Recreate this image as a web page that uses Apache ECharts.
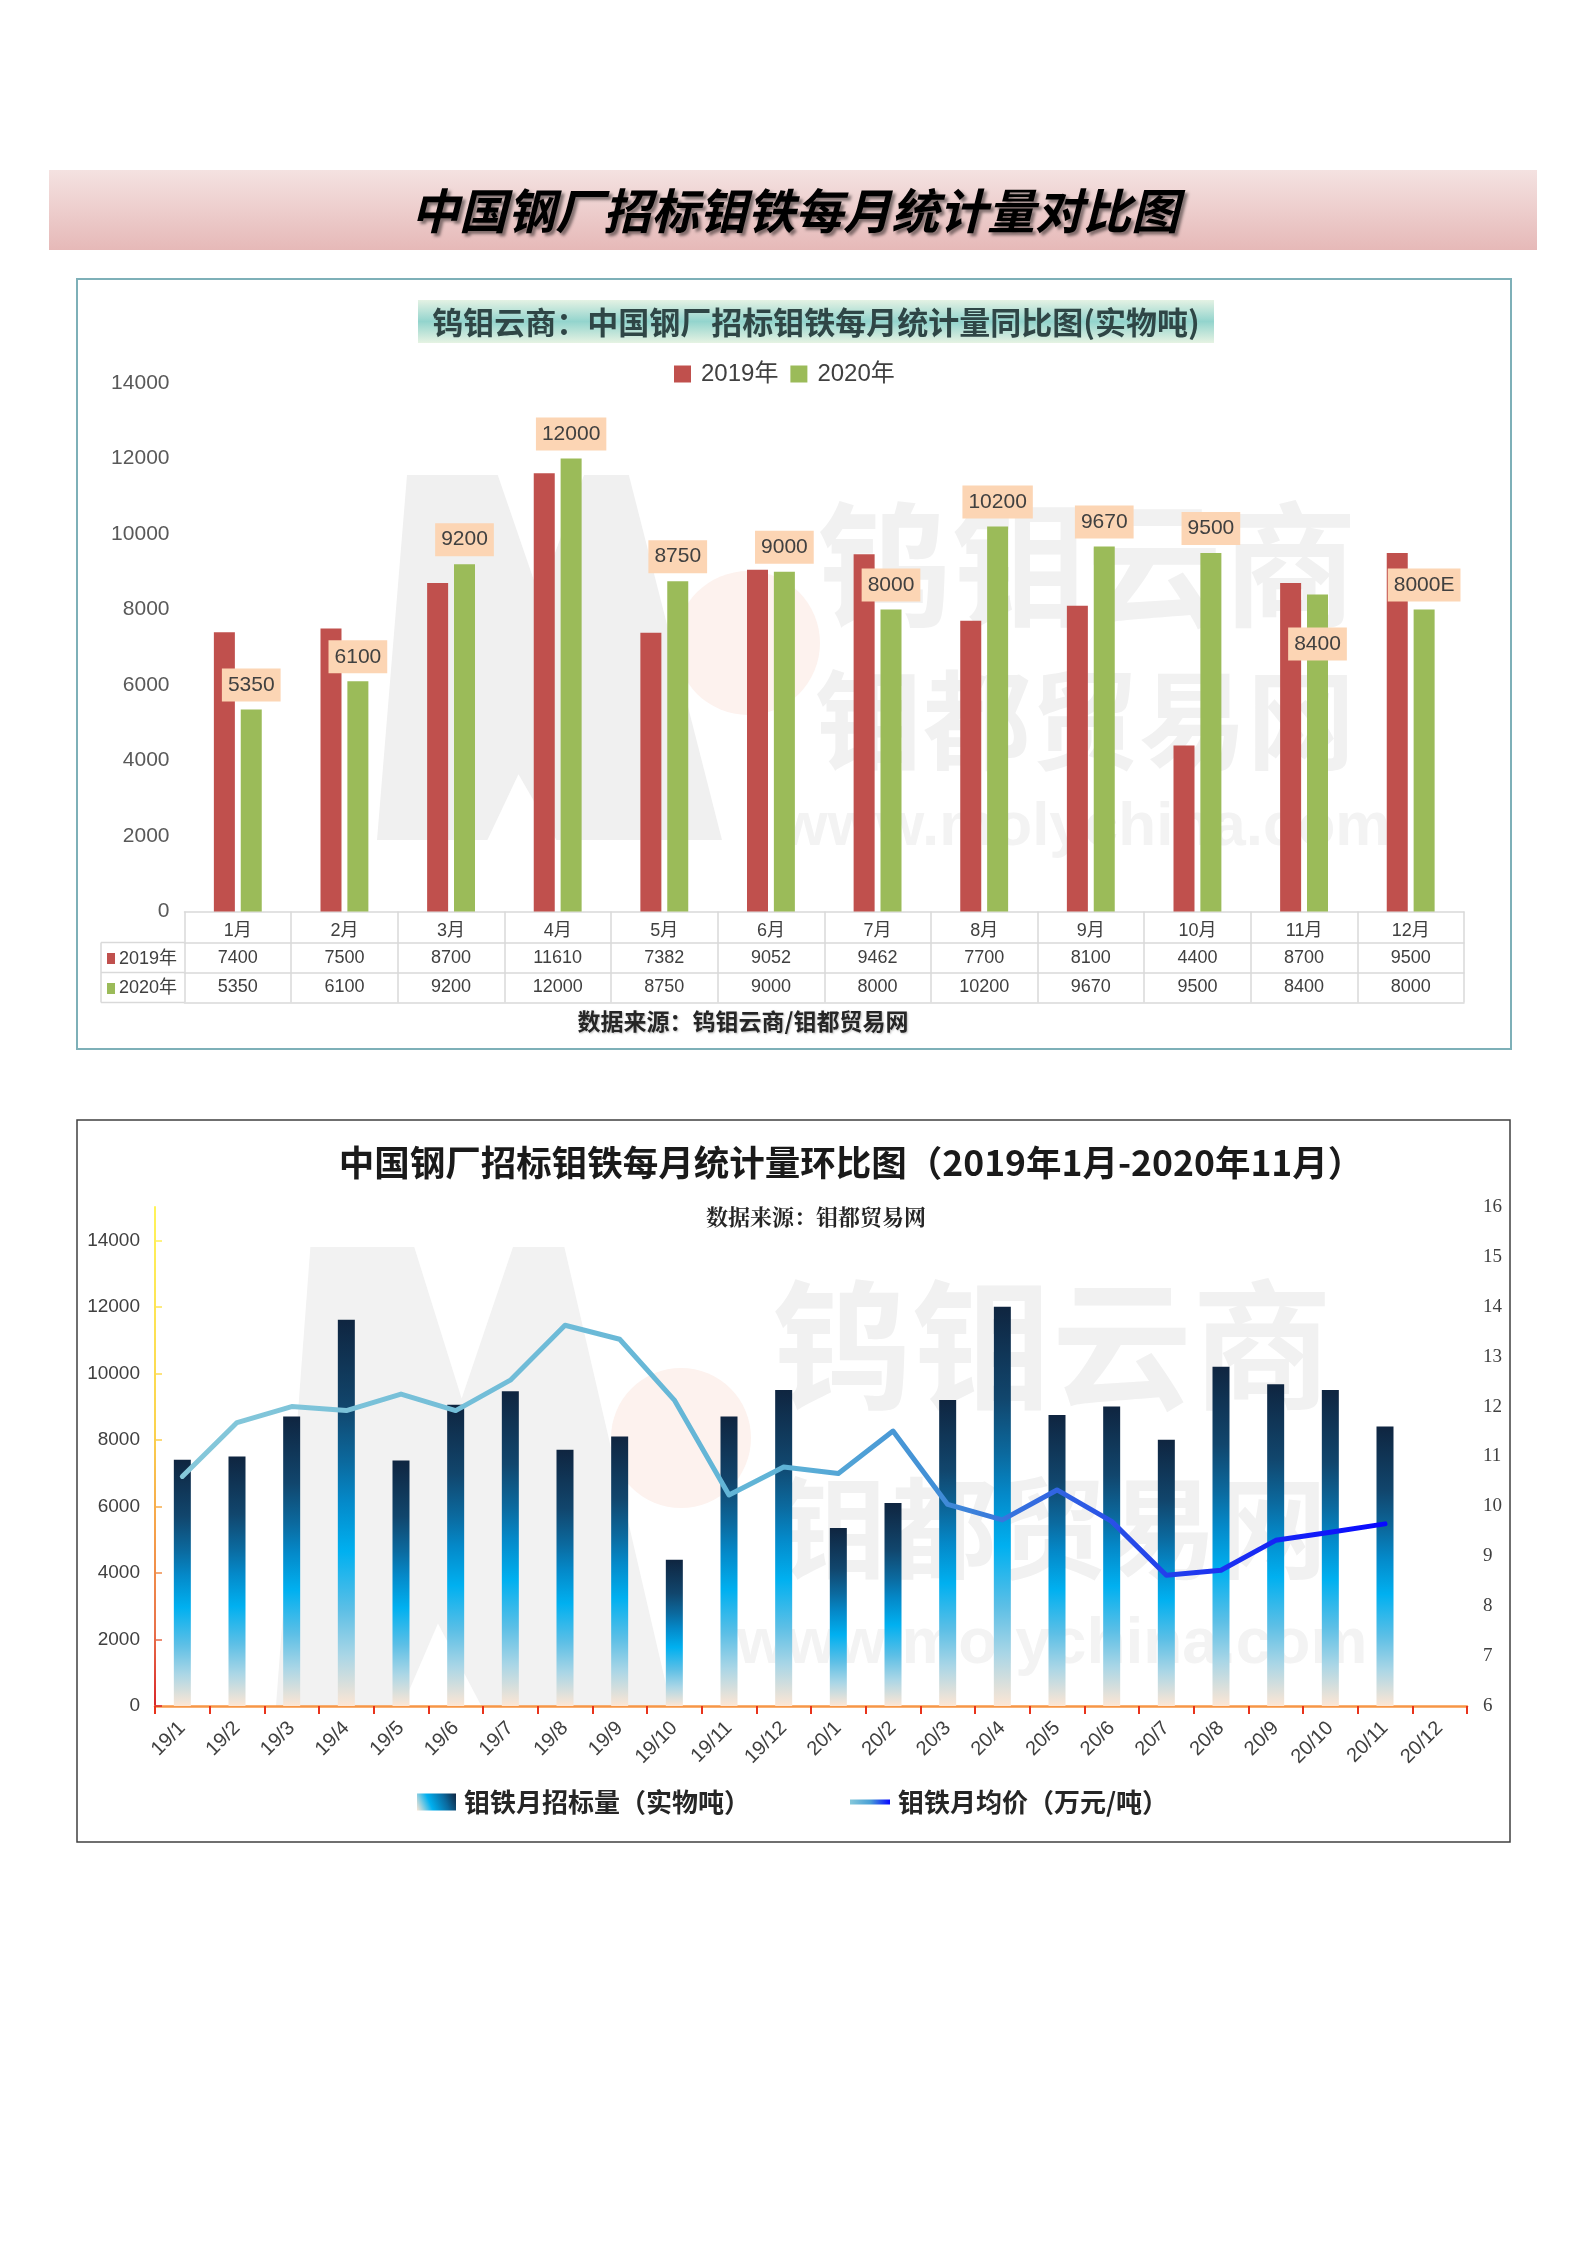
<!DOCTYPE html>
<html>
<head>
<meta charset="utf-8">
<script src="https://cdn.jsdelivr.net/npm/echarts@6/dist/echarts.min.js"></script>
<style>
html,body{margin:0;padding:0;background:#ffffff;}
#c{width:1587px;height:2245px;}
</style>
</head>
<body>
<div id="c"></div>
<script>
// ---------- data ----------
const months = ['1月','2月','3月','4月','5月','6月','7月','8月','9月','10月','11月','12月'];
const y2019 = [7400, 7500, 8700, 11610, 7382, 9052, 9462, 7700, 8100, 4400, 8700, 9500];
const y2020 = [5350, 6100, 9200, 12000, 8750, 9000, 8000, 10200, 9670, 9500, 8400, 8000];
const estimated2020 = [false,false,false,false,false,false,false,false,false,false,false,true];
const yTicks1 = [0, 2000, 4000, 6000, 8000, 10000, 12000, 14000];

const periods = ['19/1','19/2','19/3','19/4','19/5','19/6','19/7','19/8','19/9','19/10','19/11','19/12',
                 '20/1','20/2','20/3','20/4','20/5','20/6','20/7','20/8','20/9','20/10','20/11','20/12'];
const volumes = [7400, 7500, 8700, 11610, 7382, 9052, 9462, 7700, 8100, 4400, 8700, 9500,
                 5350, 6100, 9200, 12000, 8750, 9000, 8000, 10200, 9670, 9500, 8400, null];
const prices  = [10.6, 11.68, 12.0, 11.92, 12.25, 11.92, 12.53, 13.63, 13.35, 12.13, 10.23, 10.79,
                 10.66, 11.51, 10.04, 9.73, 10.33, 9.7, 8.62, 8.72, 9.32, 9.48, 9.65, null];
const volTicks = [0, 2000, 4000, 6000, 8000, 10000, 12000, 14000];

// ---------- styling helpers ----------
const CJK = "'Noto Sans CJK SC', sans-serif";
const NUM = "'Liberation Sans', 'Noto Sans CJK SC', sans-serif";
const G = echarts.graphic;
const wm = '#f1f1f1';
const plain = v => String(v);

function mShape(x0, y0, x1, y1) {
  const rel = [[0,1],[0.087,0],[0.35,0],[0.47,0.33],[0.6,0],[0.73,0],[1,1],[0.52,1],[0.41,0.82],[0.32,1]];
  return rel.map(p => [x0 + p[0]*(x1-x0), y0 + p[1]*(y1-y0)]);
}

const barGrad = new G.LinearGradient(0,0,0,1,[
  {offset:0, color:'#0f2540'},{offset:0.23, color:'#11466d'},{offset:0.37, color:'#0b6a9f'},
  {offset:0.47, color:'#0489c9'},{offset:0.6, color:'#00b0f0'},{offset:0.75, color:'#5cbfe6'},
  {offset:0.87, color:'#aad6e6'},{offset:1, color:'#fde6d4'}]);
const barLegendGrad = new G.LinearGradient(0,1,1,0,[
  {offset:0, color:'#fde6d4'},{offset:0.35, color:'#00b0f0'},{offset:0.7, color:'#0b6a9f'},{offset:1, color:'#0f2540'}]);
const lineGrad = new G.LinearGradient(0,0,1,0,[
  {offset:0, color:'#86c8da'},{offset:0.5, color:'#5fb3d6'},{offset:0.62, color:'#4290d6'},
  {offset:0.8, color:'#2545ea'},{offset:1, color:'#0808ff'}]);
const lineLegendGrad = new G.LinearGradient(0,0,1,0,[
  {offset:0, color:'#86c8da'},{offset:0.5, color:'#4aa0d6'},{offset:1, color:'#0808ff'}]);
const leftAxisGrad = new G.LinearGradient(0,1207,0,1706,[
  {offset:0, color:'#fff35a'},{offset:0.45, color:'#fbd24e'},{offset:0.65, color:'#f5a04a'},
  {offset:0.85, color:'#e8704a'},{offset:1, color:'#d9262a'}], true);

const tableLine = '#d9d9d9';

// ---------- graphic (frames, titles, watermark) ----------
const graphics = [
  // banner
  {type:'rect', shape:{x:49,y:170,width:1488,height:80},
   style:{fill:new G.LinearGradient(0,0,0,1,[{offset:0,color:'#f4e2e1'},{offset:1,color:'#e6b9b8'}])}, z:0},
  {type:'text', x:795, y:211, z:1,
   style:{text:'中国钢厂招标钼铁每月统计量对比图', fill:'#000', font:"italic bold 48px 'Noto Sans CJK SC', sans-serif",
     align:'center', verticalAlign:'middle', textShadowColor:'rgba(0,0,0,0.45)', textShadowBlur:3,
     textShadowOffsetX:3, textShadowOffsetY:3}},

  // chart 1 watermark
  {type:'polygon', shape:{points:mShape(377,475,722,840)}, style:{fill:'#f0f0f0'}, z:0},
  {type:'circle', shape:{cx:748,cy:643,r:72}, style:{fill:'#fdf2ee'}, z:0},
  {type:'text', x:1087, y:565, z:0, style:{text:'钨钼云商', fill:wm, font:"bold 135px 'Noto Sans CJK SC'", align:'center', verticalAlign:'middle'}},
  {type:'text', x:1085, y:720, z:0, style:{text:'钼都贸易网', fill:wm, font:"bold 108px 'Noto Sans CJK SC'", align:'center', verticalAlign:'middle'}},
  {type:'text', x:1085, y:828, z:0, style:{text:'www.molychina.com', fill:'#f3f3f3', font:"bold 62px 'Liberation Sans'", align:'center', verticalAlign:'middle'}},

  // chart 1 frame
  {type:'rect', shape:{x:77,y:279,width:1434,height:770}, style:{fill:'none', stroke:'#7eb0b8', lineWidth:2}, z:1},
  // chart 1 title box
  {type:'rect', shape:{x:418,y:300,width:796,height:43},
   style:{fill:new G.LinearGradient(0,0,0,1,[{offset:0,color:'#e4f2e4'},{offset:0.5,color:'#93d4cd'},{offset:1,color:'#e6f3e3'}])}, z:1},
  {type:'text', x:816, y:322, z:2,
   style:{text:'钨钼云商：中国钢厂招标钼铁每月统计量同比图(实物吨)', fill:'#2f4646', font:"bold 31px 'Noto Sans CJK SC'",
     align:'center', verticalAlign:'middle'}},

  // table left column
  {type:'line', shape:{x1:101,y1:942.5,x2:184.5,y2:942.5}, style:{stroke:tableLine,lineWidth:1.5}, z:1},
  {type:'line', shape:{x1:101,y1:972.5,x2:184.5,y2:972.5}, style:{stroke:tableLine,lineWidth:1.5}, z:1},
  {type:'line', shape:{x1:101,y1:1002.5,x2:184.5,y2:1002.5}, style:{stroke:tableLine,lineWidth:1.5}, z:1},
  {type:'line', shape:{x1:101,y1:942.5,x2:101,y2:1002.5}, style:{stroke:tableLine,lineWidth:1.5}, z:1},
  {type:'rect', shape:{x:107,y:953,width:8,height:11}, style:{fill:'#c0504d'}, z:1},
  {type:'text', x:119, y:959, z:1, style:{text:'2019年', fill:'#404040', font:"18px 'Liberation Sans','Noto Sans CJK SC'", verticalAlign:'middle'}},
  {type:'rect', shape:{x:107,y:983,width:8,height:11}, style:{fill:'#9bbb59'}, z:1},
  {type:'text', x:119, y:988, z:1, style:{text:'2020年', fill:'#404040', font:"18px 'Liberation Sans','Noto Sans CJK SC'", verticalAlign:'middle'}},
  // chart 1 source
  {type:'text', x:743, y:1021, z:1,
   style:{text:'数据来源：钨钼云商/钼都贸易网', fill:'#262626', font:"bold 23px 'Noto Sans CJK SC'", align:'center', verticalAlign:'middle',
     textShadowColor:'rgba(0,0,0,0.25)', textShadowBlur:2, textShadowOffsetX:1, textShadowOffsetY:1}},

  // chart 2 watermark
  {type:'polygon', shape:{points:mShape(276,1247,671,1706)}, style:{fill:'#f2f2f2'}, z:0},
  {type:'circle', shape:{cx:681,cy:1438,r:70}, style:{fill:'#fdf2ee'}, z:0},
  {type:'text', x:1052, y:1345, z:0, style:{text:'钨钼云商', fill:wm, font:"bold 140px 'Noto Sans CJK SC'", align:'center', verticalAlign:'middle'}},
  {type:'text', x:1052, y:1528, z:0, style:{text:'钼都贸易网', fill:wm, font:"bold 110px 'Noto Sans CJK SC'", align:'center', verticalAlign:'middle'}},
  {type:'text', x:1052, y:1645, z:0, style:{text:'www.molychina.com', fill:'#f3f3f3', font:"bold 64px 'Liberation Sans'", align:'center', verticalAlign:'middle'}},

  // chart 2 frame
  {type:'rect', shape:{x:77,y:1120,width:1433,height:722}, style:{fill:'none', stroke:'#404040', lineWidth:1.5}, z:1},
  {type:'text', x:851, y:1163, z:1,
   style:{text:'中国钢厂招标钼铁每月统计量环比图（2019年1月-2020年11月）', fill:'#1a1a1a', font:"bold 35.5px 'Noto Sans CJK SC'",
     align:'center', verticalAlign:'middle'}},
  {type:'text', x:816, y:1217, z:1,
   style:{text:'数据来源：钼都贸易网', fill:'#262626', font:"bold 22px 'Noto Serif CJK SC','Noto Sans CJK SC'",
     align:'center', verticalAlign:'middle'}}
];

// ---------- option ----------
const tableAxis = (data, offset, tickLen, margin, showTick, showLabel) => ({
  type:'category', gridIndex:0, position:'bottom', offset:offset, data:data,
  axisLine:{show:true, onZero:false, lineStyle:{color:tableLine, width:1.5}},
  axisTick:{show:showTick, interval:0, length:tickLen, lineStyle:{color:tableLine, width:1.5}},
  axisLabel:{show:showLabel, interval:0, margin:margin, verticalAlign:'middle', fontSize:18, color:'#404040', fontFamily:NUM},
  splitLine:{show:false}
});

const option = {
  animation:false,
  backgroundColor:'#ffffff',
  graphic:{elements:graphics},
  legend:[
    {data:[{name:'2019年',icon:'rect'},{name:'2020年',icon:'rect'}], left:669, top:357, itemWidth:17, itemHeight:17, itemGap:12,
     textStyle:{fontSize:24, color:'#404040', fontFamily:NUM, padding:[0,0,0,5]}},
    {data:[{name:'钼铁月招标量（实物吨）', icon:'rect', itemStyle:{color:barLegendGrad}}], left:412, top:1784,
     itemWidth:39, itemHeight:17, textStyle:{fontSize:26, fontWeight:'bold', color:'#262626', fontFamily:CJK, padding:[0,0,0,3]}},
    {data:[{name:'钼铁月均价（万元/吨）', icon:'rect', itemStyle:{color:lineLegendGrad}}], left:845, top:1784,
     itemWidth:40, itemHeight:5, textStyle:{fontSize:26, fontWeight:'bold', color:'#262626', fontFamily:CJK, padding:[0,0,0,3]}}
  ],
  grid:[
    {left:184.5, top:383, width:1279.5, height:528.5, containLabel:false},
    {left:155, top:1207, width:1312, height:499, containLabel:false}
  ],
  xAxis:[
    tableAxis(months, 0, 31, 20, true, true),
    tableAxis(y2019.map(String), 31, 30, 16, true, true),
    tableAxis(y2020.map(String), 61, 30, 15, true, true),
    tableAxis(months, 91, 0, 0, false, false),
    {type:'category', gridIndex:1, position:'bottom', data:periods,
     axisLine:{show:true, lineStyle:{color:'#f79646', width:2.5}},
     axisTick:{show:true, interval:0, length:8, lineStyle:{color:'#e8331c', width:2}},
     axisLabel:{interval:0, rotate:45, margin:19, fontSize:20, color:'#404040', fontFamily:NUM},
     splitLine:{show:false}}
  ],
  yAxis:[
    {type:'value', gridIndex:0, min:0, max:14000, interval:2000,
     axisLine:{show:false}, axisTick:{show:false}, splitLine:{show:false},
     axisLabel:{fontSize:21, color:'#595959', margin:15, fontFamily:NUM, formatter:plain, customValues:yTicks1}},
    {type:'value', gridIndex:1, position:'left', min:0, max:15000, interval:2000,
     axisLine:{show:true, lineStyle:{color:leftAxisGrad, width:2}},
     axisTick:{show:true, inside:true, length:7, customValues:volTicks, lineStyle:{color:leftAxisGrad, width:1.5}},
     axisLabel:{fontSize:19, color:'#404040', margin:15, fontFamily:NUM, customValues:volTicks, formatter:plain},
     splitLine:{show:false}},
    {type:'value', gridIndex:1, position:'right', min:6, max:16, interval:1, alignTicks:false,
     axisLine:{show:false}, axisTick:{show:false}, splitLine:{show:false},
     axisLabel:{fontSize:19, color:'#404040', margin:16, fontFamily:"'Liberation Serif', serif", formatter:plain}}
  ],
  series:[
    {name:'2019年', type:'bar', xAxisIndex:0, yAxisIndex:0, data:y2019, barWidth:21, barGap:'28%',
     itemStyle:{color:'#c0504d'}, emphasis:{disabled:true}, z:3},
    {name:'2020年', type:'bar', xAxisIndex:0, yAxisIndex:0, barWidth:21, barGap:'28%',
     data:y2020.map((v,i) => i === 10 ? {value:v, label:{position:'insideTop', distance:33}} : v),
     itemStyle:{color:'#9bbb59'}, emphasis:{disabled:true}, z:3,
     label:{show:true, position:'top', distance:8, backgroundColor:'#fcd5b4', padding:[6,6,6,6],
       fontSize:21, color:'#404040', fontFamily:NUM,
       formatter:p => String(y2020[p.dataIndex]) + (estimated2020[p.dataIndex] ? 'E' : '')}},
    {name:'钼铁月招标量（实物吨）', type:'bar', xAxisIndex:4, yAxisIndex:1, data:volumes, barWidth:17,
     itemStyle:{color:barGrad}, emphasis:{disabled:true}, z:3},
    {name:'钼铁月均价（万元/吨）', type:'line', xAxisIndex:4, yAxisIndex:2, data:prices, symbol:'none',
     lineStyle:{width:5, color:lineGrad, cap:'round', join:'round'}, itemStyle:{color:lineLegendGrad},
     emphasis:{disabled:true}, z:5}
  ]
};

const chart = echarts.init(document.getElementById('c'), null, {renderer:'canvas', width:1587, height:2245});
chart.setOption(option);
</script>
</body>
</html>
